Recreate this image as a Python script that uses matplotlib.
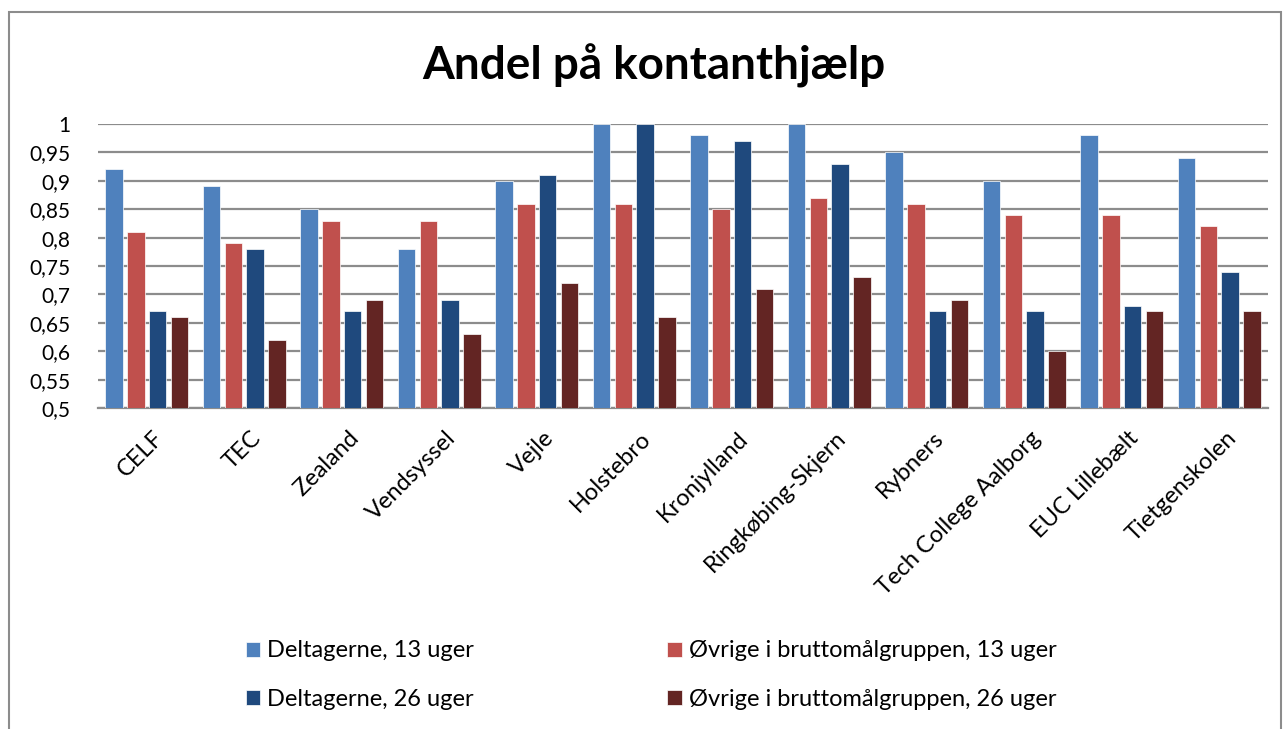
import matplotlib.pyplot as plt
import numpy as np
from matplotlib.patches import Rectangle
from matplotlib.ticker import FuncFormatter
from matplotlib.transforms import ScaledTranslation

plt.rcParams["font.family"] = ["Lato", "DejaVu Sans"]

schools = [
    "CELF", "TEC", "Zealand", "Vendsyssel", "Vejle", "Holstebro",
    "Kronjylland", "Ringkøbing-Skjern", "Rybners", "Tech College Aalborg",
    "EUC Lillebælt", "Tietgenskolen",
]
deltagere_13 = [0.92, 0.89, 0.85, 0.78, 0.90, 1.00, 0.98, 1.00, 0.95, 0.90, 0.98, 0.94]
oevrige_13 = [0.81, 0.79, 0.83, 0.83, 0.86, 0.86, 0.85, 0.87, 0.86, 0.84, 0.84, 0.82]
deltagere_26 = [0.67, 0.78, 0.67, 0.69, 0.91, 1.00, 0.97, 0.93, 0.67, 0.67, 0.68, 0.74]
oevrige_26 = [0.66, 0.62, 0.69, 0.63, 0.72, 0.66, 0.71, 0.73, 0.69, 0.60, 0.67, 0.67]

series = [
    ("Deltagerne, 13 uger", deltagere_13, "#4F81BD"),
    ("Øvrige i bruttomålgruppen, 13 uger", oevrige_13, "#C0504D"),
    ("Deltagerne, 26 uger", deltagere_26, "#1F497D"),
    ("Øvrige i bruttomålgruppen, 26 uger", oevrige_26, "#632523"),
]

fig = plt.figure(figsize=(12.87, 7.29), dpi=100)
ax = fig.add_axes([98 / 1287, 1 - 408 / 729, (1268 - 98) / 1287, (408 - 124) / 729])

x = np.arange(len(schools))
width = 0.18
step = 0.225
bars = {}
for i, (name, vals, color) in enumerate(series):
    offset = (i - 1.5) * step
    bars[name] = ax.bar(x + offset, np.array(vals) - 0.5, width, bottom=0.5,
                        color=color, edgecolor="white", linewidth=0.5, label=name, zorder=3)

ax.set_ylim(0.5, 1.0)
ax.set_xlim(-0.5, len(schools) - 0.5)
ax.set_yticks(np.arange(0.5, 1.001, 0.05))
ax.yaxis.set_major_formatter(FuncFormatter(lambda v, p: f"{v:.2f}".rstrip("0").rstrip(".").replace(".", ",")))
ax.grid(axis="y", color="#8c8c8c", linewidth=1.6, zorder=0)
ax.tick_params(axis="y", length=0, labelsize=15, pad=20)
ax.set_xticks(x)
ax.set_xticklabels(schools, rotation=45, ha="right", rotation_mode="anchor", fontsize=17)
ax.tick_params(axis="x", length=0, pad=14)
shift = ScaledTranslation(6 / 100, 0, fig.dpi_scale_trans)
for lbl in ax.get_xticklabels():
    lbl.set_transform(lbl.get_transform() + shift)
for s in ["top", "right", "left"]:
    ax.spines[s].set_visible(False)
ax.spines["bottom"].set_color("#8c8c8c")
ax.spines["bottom"].set_linewidth(1.6)

fig.text(654 / 1287, 1 - 66 / 729, "Andel på kontanthjælp", ha="center", va="center",
         fontsize=33, fontweight="bold")

order = ["Deltagerne, 13 uger", "Deltagerne, 26 uger",
         "Øvrige i bruttomålgruppen, 13 uger", "Øvrige i bruttomålgruppen, 26 uger"]
fig.legend([bars[n] for n in order], order, ncol=2, loc="center",
           bbox_to_anchor=(651 / 1287, 1 - 675 / 729), frameon=False, fontsize=17,
           handlelength=0.6, handleheight=0.6, handletextpad=0.3, columnspacing=8.2,
           labelspacing=1.15)

fig.add_artist(Rectangle((9 / 1287, -0.05), (1281 - 9) / 1287, 1.05 - 12 / 729,
                         transform=fig.transFigure, fill=False, edgecolor="#8c8c8c", linewidth=1.5))

fig.savefig("out.png", dpi=100)
